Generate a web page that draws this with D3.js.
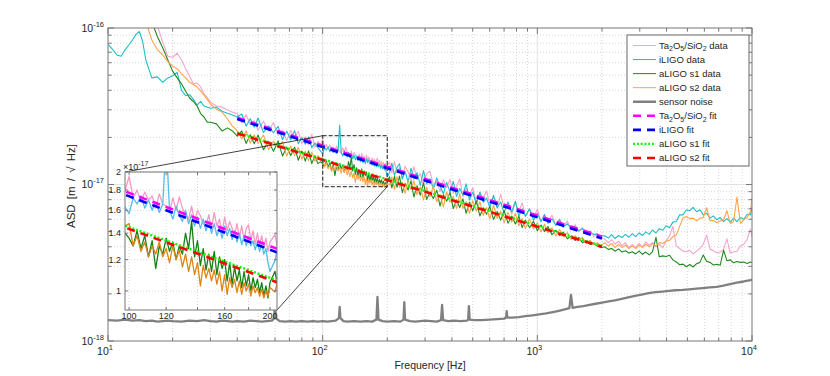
<!DOCTYPE html>
<html><head><meta charset="utf-8">
<script src="https://cdn.jsdelivr.net/npm/d3@7"></script>
<style>
body{margin:0;background:#fff}
svg{display:block}
text{font-family:"Liberation Sans",Arial,Helvetica,sans-serif;fill:#262626}
</style>
</head><body>
<svg id="c" width="830" height="376"></svg>
<script>
// ---------------- DATA (ASD values in units of 1e-17 m/sqrt(Hz)) ----------------
const freq = [10,10.5,11,11.5,12,12.5,13,13.5,14,14.5,15,16,17,18,19,20,21,22,23,24,25,26,27,28,29,30,32,34,36,38,
40,42,44,46,48,50,53,56,59,62,65,68,71,74,77,80,83,86,89,92,95,98,
100,102,104,106,108,110,112,114,116,118,120,122,124,126,128,130,132,134,136,138,140,142,144,146,148,150,152,154,156,158,160,162,164,166,168,170,172,174,176,178,180,182,184,186,188,190,192,194,196,198,200,
205,210,216,222,228,235,242,250,258,266,275,285,295,305,316,328,340,352,365,378,392,406,420,435,450,466,483,500,520,540,560,580,600,625,650,675,700,730,760,790,820,850,880,920,960,1000,1040,1080,1120,1170,1220,1270,1320,1380,1440,1500,1560,1620,1690,1760,1830,1900,1980,
2060,2140,2220,2300,2390,2480,2570,2670,2770,2870,2980,3090,3200,3320,3440,3570,3700,3840,3980,4130,4280,4440,4600,4770,4950,5130,5320,5520,5720,5930,6150,6380,6610,6860,7110,7370,7640,7920,8210,8510,8830,9150,9490,9840,10000];

const taData = [30,28,26,24,22,21,20,19,17,16,14,12,10.3,8.1,6.6,6.5,6.9,6.25,5.5,4.9,4.4,4.45,4.2,3.8,3.6,3.36,3.17,3.12,2.99,2.9,
2.83,2.48,2.79,2.43,2.56,2.22,2.54,2.20,2.49,2.06,2.21,1.91,2.21,1.99,2.19,1.82,2.02,1.80,2.09,1.73,1.88,1.79,
1.95,1.72,1.80,1.68,1.78,1.70,1.74,1.62,1.76,1.66,1.64,1.58,1.72,1.60,1.73,1.62,1.56,1.52,1.64,1.50,1.60,1.55,1.48,1.46,1.56,1.44,1.58,1.46,1.52,1.40,1.54,1.42,1.50,1.44,1.38,1.48,1.36,1.46,1.35,1.44,1.47,1.34,1.42,1.31,1.40,1.30,1.38,1.29,1.36,1.26,1.33,
1.39,1.18,1.40,1.19,1.285,1.087,1.31,1.20,1.066,1.30,1.092,1.174,0.993,1.172,1.217,0.989,1.055,0.897,1.071,0.957,1.076,0.880,0.969,1.083,0.832,0.943,0.850,0.957,0.771,0.875,0.820,0.912,0.746,0.835,0.706,0.867,0.712,0.757,0.644,0.766,0.670,0.762,0.623,0.695,0.612,0.695,0.584,0.642,0.577,0.636,0.549,0.602,0.536,0.585,0.510,0.553,0.497,0.530,0.485,0.506,0.464,0.485,0.452,
0.45,0.425,0.445,0.415,0.435,0.405,0.425,0.395,0.415,0.395,0.42,0.40,0.43,0.41,0.425,0.40,0.415,0.395,0.435,0.47,0.54,0.405,0.39,0.375,0.372,0.38,0.36,0.375,0.39,0.415,0.475,0.385,0.378,0.365,0.37,0.385,0.45,0.365,0.37,0.375,0.405,0.415,0.445,0.52,0.46];

const iligoData = [7.86,7.3,6.72,6.6,7.24,7.79,8.38,9.1,9.5,8.2,6.25,4.8,4.87,4.5,4.8,4.95,5.2,4.0,3.7,3.75,3.5,3.22,3.40,3.17,3.12,3.07,3.12,2.94,2.85,2.78,
2.70,2.82,2.36,2.63,2.32,2.66,2.15,2.37,2.14,2.35,1.94,2.19,1.93,2.21,1.82,2.00,1.81,2.01,1.72,1.84,1.72,1.63,
1.57,1.72,1.66,1.74,1.62,1.70,1.60,1.68,1.58,1.66,2.40,1.60,1.52,1.64,1.55,1.50,1.60,1.48,1.56,1.46,1.54,1.44,1.52,1.42,1.50,1.40,1.48,1.38,1.44,1.36,1.46,1.38,1.44,1.35,1.42,1.33,1.40,1.31,1.38,1.30,1.37,1.30,1.34,1.27,1.33,1.26,1.31,1.24,1.28,1.18,1.12,
1.195,1.370,1.143,1.287,1.356,1.088,1.215,1.036,1.271,1.086,1.191,0.987,1.228,1.010,1.088,0.937,1.102,0.977,0.874,1.032,0.893,1.046,0.839,0.942,0.857,1.009,0.796,0.894,0.753,0.895,0.769,0.820,0.714,0.853,0.712,0.773,0.659,0.775,0.670,0.782,0.628,0.697,0.628,0.699,0.590,0.655,0.577,0.644,0.564,0.604,0.548,0.593,0.534,0.561,0.519,0.536,0.506,0.522,0.493,0.498,0.480,0.482,0.468,
0.47,0.455,0.478,0.452,0.472,0.458,0.48,0.46,0.485,0.465,0.49,0.472,0.498,0.482,0.512,0.49,0.522,0.51,0.545,0.53,0.575,0.58,0.64,0.64,0.69,0.68,0.715,0.67,0.69,0.64,0.655,0.61,0.63,0.595,0.615,0.58,0.605,0.575,0.61,0.58,0.615,0.60,0.645,0.64,0.72];

const s1Data = [45,40,36,32,29,26,23,20,17,15,13,11,8.8,7.45,6.25,5.3,4.8,4.4,3.94,3.57,3.39,3.17,2.84,2.7,2.5,2.5,2.44,2.2,2.3,2.2,
2.04,2.20,1.83,2.08,1.82,2.07,1.67,1.89,1.63,1.90,1.52,1.73,1.53,1.73,1.43,1.64,1.41,1.64,1.36,1.53,1.36,1.40,
1.36,1.30,1.42,1.28,1.38,1.22,1.34,1.14,1.30,1.24,1.36,1.26,1.33,1.20,1.30,1.24,1.40,1.28,1.50,1.22,1.34,1.16,1.28,1.13,1.24,1.12,1.26,1.10,1.22,1.14,1.20,1.06,1.18,1.04,1.15,1.06,1.13,1.02,1.12,1.03,1.10,1.00,1.08,1.02,1.07,0.99,1.05,0.97,1.03,0.96,1.05,
1.121,0.951,1.128,0.960,1.133,0.887,1.015,0.923,1.055,0.832,0.981,0.854,1.025,0.803,0.888,0.813,0.921,0.729,0.860,0.782,0.891,0.702,0.795,0.713,0.810,0.655,0.771,0.679,0.783,0.629,0.710,0.645,0.723,0.598,0.673,0.592,0.684,0.566,0.629,0.559,0.628,0.531,0.591,0.529,0.581,0.506,0.551,0.500,0.539,0.478,0.510,0.471,0.497,0.450,0.470,0.439,0.459,0.425,0.439,0.414,0.420,0.405,0.394,
0.40,0.385,0.39,0.375,0.388,0.37,0.377,0.365,0.372,0.36,0.375,0.358,0.37,0.355,0.372,0.46,0.345,0.35,0.347,0.353,0.33,0.32,0.307,0.31,0.298,0.308,0.297,0.312,0.318,0.355,0.322,0.318,0.306,0.309,0.305,0.38,0.326,0.33,0.316,0.322,0.318,0.32,0.313,0.32,0.318];

const s2Data = [40,36,33,30,27,24,21,18,15,13,11,8.38,7.24,6.72,6.1,5.7,5.5,5.1,4.8,4.5,4.35,4.2,3.96,3.73,3.5,3.27,3.03,2.9,2.62,2.36,
2.21,1.95,2.20,1.84,2.08,1.83,2.07,1.67,1.89,1.71,1.88,1.52,1.76,1.53,1.73,1.45,1.63,1.42,1.61,1.41,1.53,1.46,
1.48,1.30,1.38,1.26,1.33,1.22,1.30,1.24,1.33,1.22,1.28,1.18,1.30,1.20,1.27,1.15,1.24,1.12,1.22,1.10,1.18,1.03,1.16,1.08,1.14,1.06,1.13,1.04,1.12,1.00,1.10,0.98,1.08,1.02,1.07,0.99,1.06,0.98,1.05,1.00,1.04,0.97,1.03,0.99,1.02,0.97,1.01,0.96,1.00,0.97,1.02,
0.994,1.119,0.931,1.124,0.960,1.037,0.877,1.058,0.929,1.060,0.858,0.965,0.796,0.963,0.835,0.977,0.775,0.865,0.719,0.895,0.770,0.837,0.701,0.874,0.703,0.775,0.653,0.788,0.675,0.777,0.634,0.713,0.602,0.736,0.607,0.674,0.570,0.664,0.575,0.655,0.544,0.606,0.523,0.602,0.520,0.570,0.497,0.557,0.492,0.528,0.469,0.515,0.464,0.492,0.446,0.471,0.436,0.460,0.421,0.440,0.412,0.425,0.406,
0.425,0.405,0.42,0.395,0.415,0.395,0.41,0.39,0.405,0.39,0.41,0.395,0.415,0.40,0.42,0.405,0.425,0.42,0.435,0.44,0.465,0.475,0.54,0.61,0.625,0.605,0.61,0.585,0.61,0.615,0.71,0.585,0.59,0.57,0.585,0.595,0.68,0.565,0.58,0.83,0.565,0.595,0.615,0.675,0.82];

const sensorFreq = [10,11,12,13,14,15,16,17,18,19,20,22,24,26,28,30,32,34,36,38,40,43,46,49,52,55,58,59.5,60,60.5,63,67,71,75,80,85,90,95,100,105,110,115,119,120,121,125,130,140,150,160,170,178,180,182,190,200,215,230,238,240,242,255,270,285,300,320,340,356,360,364,385,410,440,470,476,480,484,510,550,600,650,700,715,720,725,760,820,880,950,1020,1100,1180,1260,1340,1410,1435,1460,1540,1640,1750,1870,2000,2150,2300,2470,2650,2850,3060,3300,3550,3820,4100,4400,4750,5100,5500,5900,6350,6850,7350,7900,8500,9150,9850,10000];
const sensorData = [0.136,0.135,0.137,0.135,0.136,0.134,0.135,0.133,0.134,0.135,0.134,0.133,0.135,0.134,0.136,0.134,0.133,0.135,0.134,0.133,0.134,0.133,0.135,0.134,0.133,0.134,0.135,0.14,0.20,0.14,0.134,0.133,0.134,0.133,0.134,0.133,0.134,0.133,0.134,0.133,0.134,0.135,0.14,0.165,0.14,0.134,0.133,0.134,0.133,0.134,0.133,0.137,0.191,0.137,0.134,0.133,0.134,0.133,0.137,0.177,0.137,0.134,0.133,0.134,0.135,0.134,0.133,0.136,0.17,0.136,0.134,0.135,0.134,0.135,0.137,0.167,0.137,0.136,0.136,0.137,0.138,0.139,0.141,0.155,0.141,0.141,0.142,0.144,0.146,0.148,0.15,0.153,0.156,0.159,0.162,0.197,0.163,0.165,0.167,0.17,0.173,0.176,0.179,0.182,0.186,0.19,0.194,0.198,0.202,0.205,0.207,0.209,0.211,0.212,0.214,0.216,0.218,0.22,0.222,0.226,0.231,0.236,0.24,0.245,0.247];

const fitFreq = [40, 2000];
const taFit = [2.666, 0.4645];
const iligoFit = [2.621, 0.452];
const s1Fit = [2.142, 0.405];
const s2Fit = [2.120, 0.400];

const xTicks = [10, 100, 1000, 10000];
const xTickExps = ['1', '2', '3', '4'];
const yTicks = [0.1, 1, 10];
const yTickExps = ['-18', '-17', '-16'];
const insetXTicks = [100, 120, 140, 160, 180, 200];
const insetXLabels = ['100', '120', '', '160', '', '200'];
const insetYTicks = [1, 1.2, 1.4, 1.6, 1.8, 2];
const insetYLabels = ['1', '1.2', '1.4', '1.6', '1.8', '2'];
const zoomBox = {f: [100, 200], v: [0.97, 2.05]};
const legendLabels = ['Ta_2O_5/SiO_2 data', 'iLIGO data', 'aLIGO s1 data', 'aLIGO s2 data', 'sensor noise',
  'Ta_2O_5/SiO_2 fit', 'iLIGO fit', 'aLIGO s1 fit', 'aLIGO s2 fit'];

// ---------------- STYLES ----------------
const dataStyles = [
  {vals: taData, color: '#f7a3cb', inset: '#f59ac3'},
  {vals: iligoData, color: '#1cbfc9', inset: '#52bdec'},
  {vals: s1Data, color: '#1e8a1e', inset: '#158015'},
  {vals: s2Data, color: '#ffa448', inset: '#dd8514'}
];
const fitStyles = [
  {vals: taFit, color: '#ff00ff', dash: '8,6', w: 2.6},
  {vals: iligoFit, color: '#0000ff', dash: '8,6', w: 2.6},
  {vals: s1Fit, color: '#00ff00', dash: '2,1.8', w: 2.4},
  {vals: s2Fit, color: '#ff0000', dash: '8,6', w: 2.6}
];

const svg = d3.select('#c');
svg.append('rect').attr('width', 830).attr('height', 376).attr('fill', '#fff');
const L = 108, R = 752, T = 28, B = 341;
const x = d3.scaleLog().domain([10, 10000]).range([L, R]);
const y = d3.scaleLog().domain([0.1, 10]).range([B, T]);
const IL = 125, IR = 277, IT = 172, IB = 310;
const ix = d3.scaleLog().domain([98, 207]).range([IL, IR]);
const iy = d3.scaleLog().domain([0.895, 2]).range([IB, IT]);

const defs = svg.append('defs');
defs.append('clipPath').attr('id', 'cm').append('rect').attr('x', L).attr('y', T).attr('width', R - L).attr('height', B - T);
defs.append('clipPath').attr('id', 'ci').append('rect').attr('x', IL).attr('y', IT).attr('width', IR - IL).attr('height', IB - IT);

const isMajor = t => Math.abs(Math.log10(t) - Math.round(Math.log10(t))) < 1e-9;

// grid
const grid = svg.append('g');
x.ticks().forEach(t => {
  if (t === 10 || t === 10000) return;
  grid.append('line').attr('x1', x(t)).attr('x2', x(t)).attr('y1', T).attr('y2', B)
    .attr('stroke', isMajor(t) ? '#e2e2e2' : '#d6d6d6').attr('stroke-width', 1)
    .attr('stroke-dasharray', isMajor(t) ? null : '1,2');
});
y.ticks().forEach(t => {
  if (t <= 0.1 + 1e-9 || t >= 10 - 1e-9) return;
  grid.append('line').attr('x1', L).attr('x2', R).attr('y1', y(t)).attr('y2', y(t))
    .attr('stroke', isMajor(t) ? '#e2e2e2' : '#d6d6d6').attr('stroke-width', 1)
    .attr('stroke-dasharray', isMajor(t) ? null : '1,2');
});

// data
const plot = svg.append('g').attr('clip-path', 'url(#cm)');
const line = d3.line().x(d => x(d[0])).y(d => y(d[1]));
const n = freq.length;
dataStyles.forEach(s => {
  const pts = freq.map((f, i) => [f, s.vals[i]]).filter(d => d[1] != null);
  plot.append('path').attr('d', line(pts)).attr('fill', 'none').attr('stroke', s.color).attr('stroke-width', 1.1).attr('stroke-linejoin', 'round');
});
plot.append('path').attr('d', line(sensorFreq.map((f, i) => [f, sensorData[i]])))
  .attr('fill', 'none').attr('stroke', '#808080').attr('stroke-width', 2.3).attr('stroke-linejoin', 'round');
fitStyles.forEach(s => {
  plot.append('path').attr('d', line(fitFreq.map((f, i) => [f, s.vals[i]])))
    .attr('fill', 'none').attr('stroke', s.color).attr('stroke-width', s.w).attr('stroke-dasharray', s.dash);
});

// axes ticks + box
const ax = svg.append('g').attr('stroke', '#777').attr('stroke-width', 1);
x.ticks().forEach(t => {
  const len = isMajor(t) ? 6 : 3.5;
  ax.append('line').attr('x1', x(t)).attr('x2', x(t)).attr('y1', B).attr('y2', B - len);
  ax.append('line').attr('x1', x(t)).attr('x2', x(t)).attr('y1', T).attr('y2', T + len);
});
y.ticks().forEach(t => {
  const len = isMajor(t) ? 6 : 3.5;
  ax.append('line').attr('y1', y(t)).attr('y2', y(t)).attr('x1', L).attr('x2', L + len);
  ax.append('line').attr('y1', y(t)).attr('y2', y(t)).attr('x1', R).attr('x2', R - len);
});
ax.append('rect').attr('x', L).attr('y', T).attr('width', R - L).attr('height', B - T).attr('fill', 'none');

// tick labels
xTicks.forEach((t, i) => {
  const tx = svg.append('text').attr('x', x(t) - 3).attr('y', 355).attr('text-anchor', 'middle').attr('font-size', 10.5);
  tx.append('tspan').text('10');
  tx.append('tspan').attr('dy', -5).attr('font-size', 7.5).text(xTickExps[i]);
});
yTicks.forEach((t, i) => {
  const tx = svg.append('text').attr('x', 104).attr('y', y(t) + 3.8).attr('text-anchor', 'end').attr('font-size', 10.5);
  tx.append('tspan').text('10');
  tx.append('tspan').attr('dy', -5).attr('font-size', 7.5).text(yTickExps[i]);
});
svg.append('text').attr('x', 430).attr('y', 369).attr('text-anchor', 'middle').attr('font-size', 10.5).text('Frequency [Hz]');
svg.append('text').attr('transform', 'translate(75,186) rotate(-90)').attr('text-anchor', 'middle').attr('font-size', 11.5)
  .attr('word-spacing', 2).text('ASD [m / \u221A Hz]');

// zoom box + connectors
const bx0 = x(zoomBox.f[0]), bx1 = x(zoomBox.f[1]), by0 = y(zoomBox.v[1]), by1 = y(zoomBox.v[0]);
svg.append('rect').attr('x', bx0).attr('y', by0).attr('width', bx1 - bx0).attr('height', by1 - by0)
  .attr('fill', 'none').attr('stroke', '#4a4a4a').attr('stroke-width', 1.3).attr('stroke-dasharray', '4,2');
svg.append('line').attr('x1', bx0).attr('y1', by0).attr('x2', IL).attr('y2', IT).attr('stroke', '#111').attr('stroke-width', 0.8);
svg.append('line').attr('x1', bx1).attr('y1', by1).attr('x2', IR).attr('y2', IB).attr('stroke', '#111').attr('stroke-width', 0.8);

// inset
const ins = svg.append('g');
ins.append('rect').attr('x', IL).attr('y', IT).attr('width', IR - IL).attr('height', IB - IT).attr('fill', '#fff');
insetXTicks.forEach(t => ins.append('line').attr('x1', ix(t)).attr('x2', ix(t)).attr('y1', IT).attr('y2', IB)
  .attr('stroke', '#d6d6d6').attr('stroke-dasharray', '1,2'));
insetYTicks.forEach(t => ins.append('line').attr('y1', iy(t)).attr('y2', iy(t)).attr('x1', IL).attr('x2', IR)
  .attr('stroke', '#d6d6d6').attr('stroke-dasharray', '1,2'));
const ip = ins.append('g').attr('clip-path', 'url(#ci)');
const iline = d3.line().x(d => ix(d[0])).y(d => iy(d[1]));
dataStyles.forEach(s => {
  const pts = freq.map((f, i) => [f, s.vals[i]]).filter(d => d[0] >= 95 && d[0] <= 212);
  ip.append('path').attr('d', iline(pts)).attr('fill', 'none').attr('stroke', s.inset).attr('stroke-width', 1.3).attr('stroke-linejoin', 'round');
});
ip.append('path').attr('d', iline(sensorFreq.map((f, i) => [f, sensorData[i]]))).attr('fill', 'none').attr('stroke', '#808080').attr('stroke-width', 2.3);
fitStyles.forEach(s => {
  ip.append('path').attr('d', iline(fitFreq.map((f, i) => [f, s.vals[i]])))
    .attr('fill', 'none').attr('stroke', s.color).attr('stroke-width', s.w).attr('stroke-dasharray', s.dash);
});
const iax = ins.append('g').attr('stroke', '#777');
insetXTicks.forEach(t => {
  iax.append('line').attr('x1', ix(t)).attr('x2', ix(t)).attr('y1', IB).attr('y2', IB - 3);
  iax.append('line').attr('x1', ix(t)).attr('x2', ix(t)).attr('y1', IT).attr('y2', IT + 3);
});
insetYTicks.forEach(t => {
  iax.append('line').attr('y1', iy(t)).attr('y2', iy(t)).attr('x1', IL).attr('x2', IL + 3);
  iax.append('line').attr('y1', iy(t)).attr('y2', iy(t)).attr('x1', IR).attr('x2', IR - 3);
});
iax.append('rect').attr('x', IL).attr('y', IT).attr('width', IR - IL).attr('height', IB - IT).attr('fill', 'none');
insetXTicks.forEach((t, i) => {
  if (!insetXLabels[i]) return;
  ins.append('text').attr('x', ix(t)).attr('y', IB + 8.5).attr('text-anchor', 'middle').attr('font-size', 9).text(insetXLabels[i]);
});
insetYTicks.forEach((t, i) => {
  ins.append('text').attr('x', IL - 4).attr('y', iy(t) + 3.2).attr('text-anchor', 'end').attr('font-size', 9).text(insetYLabels[i]);
});
const ex = ins.append('text').attr('x', IL - 2).attr('y', IT - 2).attr('font-size', 9);
ex.append('tspan').text('\u00D710');
ex.append('tspan').attr('dy', -4).attr('font-size', 7).text('-17');

// legend
const LX = 627, LY = 35, LW = 122, LH = 131;
const lg = svg.append('g');
lg.append('rect').attr('x', LX).attr('y', LY).attr('width', LW).attr('height', LH).attr('fill', '#fff').attr('stroke', '#666').attr('stroke-width', 1);
const legStyles = [
  ...dataStyles.map(s => ({color: s.color, w: 1, dash: null})),
  {color: '#808080', w: 2.5, dash: null},
  ...fitStyles.map(s => ({color: s.color, w: s.w, dash: s.dash}))
];
legendLabels.forEach((lab, i) => {
  const yy = 45.5 + i * 14.06;
  const st = legStyles[i];
  lg.append('line').attr('x1', 633).attr('x2', 656).attr('y1', yy).attr('y2', yy)
    .attr('stroke', st.color).attr('stroke-width', st.w).attr('stroke-dasharray', st.dash);
  const t = lg.append('text').attr('x', 659).attr('y', yy + 3.3).attr('font-size', 9.5);
  const parts = lab.split(/(_\d)/).filter(p => p.length);
  let sub = false;
  parts.forEach(p => {
    if (p[0] === '_') {
      t.append('tspan').attr('dy', 2.5).attr('font-size', 7).text(p.slice(1));
      sub = true;
    } else {
      t.append('tspan').attr('dy', sub ? -2.5 : 0).text(p);
      sub = false;
    }
  });
});
if ([taData, iligoData, s1Data, s2Data].some(a => a.length !== n) || sensorFreq.length !== sensorData.length)
  console.error('length mismatch', n, taData.length, iligoData.length, s1Data.length, s2Data.length, sensorFreq.length, sensorData.length);
</script>
</body></html>
